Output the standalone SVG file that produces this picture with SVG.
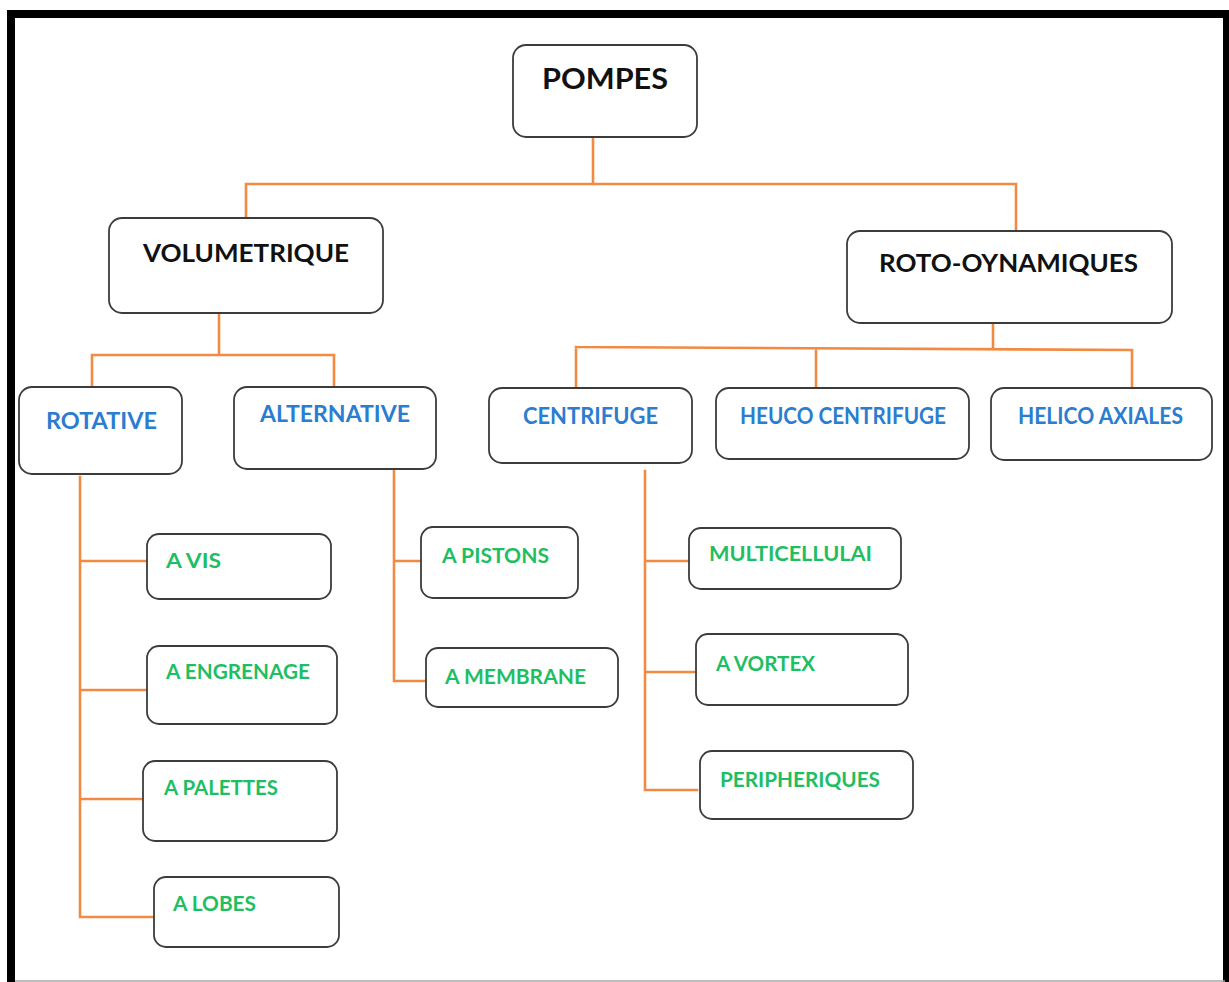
<svg xmlns="http://www.w3.org/2000/svg" width="1229" height="982" viewBox="0 0 1229 982">
  <style>
    .box { fill: #ffffff; stroke: #3c3c3c; stroke-width: 1.8; }
    .lnk { fill: none; stroke: #f28a44; stroke-width: 2.6; stroke-linecap: square; }
    text { font-family: Lato, "Open Sans", "Liberation Sans", sans-serif; font-weight: bold; }
    .t0 { fill: #111111; font-size: 29px; }
    .t1 { fill: #111111; font-size: 24px; }
    .t2 { fill: #2b7dd0; font-size: 23px; }
    .t3 { fill: #1fbe63; font-size: 21px; }
  </style>

  <!-- page frame -->
  <rect x="0" y="0" width="1229" height="982" fill="#ffffff"/>
  <path d="M11 982 V14 H1227 V982" fill="none" stroke="#000000" stroke-width="8"/>
  <line x1="15" y1="981" x2="1225" y2="981" stroke="#a8a8a8" stroke-width="1.5"/>

  <!-- connectors -->
  <g id="connectors" class="lnk">
    <path d="M593 137 V184 M246 184 H1016 M246 184 V218 M1016 184 V231"/>
    <path d="M219 313 V355 M92 355 H334 M92 355 V387 M334 355 V387"/>
    <path d="M993 323 V348 M576 347 L1132 350 M576 347 V388 M816 349 V388 M1132 350 V388"/>
    <path d="M80 477 V917 M80 561 H147 M80 690 H147 M80 799 H143 M80 917 H154"/>
    <path d="M394 471 V681 M394 561 H424 M394 681 H426"/>
    <path d="M645 471 V790 M645 561 H689 M645 672 H705 M645 790 H697"/>
  </g>

  <g id="n-pompes">
    <rect class="box" x="513" y="45" width="184" height="92" rx="13"/>
    <text class="t0" x="542" y="89" textLength="126" lengthAdjust="spacingAndGlyphs">POMPES</text>
  </g>
  <g id="n-volumetrique">
    <rect class="box" x="109" y="218" width="274" height="95" rx="13"/>
    <text class="t1" x="143" y="262" textLength="206" lengthAdjust="spacingAndGlyphs">VOLUMETRIQUE</text>
  </g>
  <g id="n-roto">
    <rect class="box" x="847" y="231" width="325" height="92" rx="13"/>
    <text class="t1" x="879" y="272" textLength="259" lengthAdjust="spacingAndGlyphs">ROTO-OYNAMIQUES</text>
  </g>

  <g id="n-rotative">
    <rect class="box" x="19" y="387" width="163" height="87" rx="13"/>
    <text class="t2" x="46" y="429" textLength="111" lengthAdjust="spacingAndGlyphs">ROTATIVE</text>
  </g>
  <g id="n-alternative">
    <rect class="box" x="234" y="387" width="202" height="82" rx="13"/>
    <text class="t2" x="260" y="422" textLength="150" lengthAdjust="spacingAndGlyphs">ALTERNATIVE</text>
  </g>
  <g id="n-centrifuge">
    <rect class="box" x="489" y="388" width="203" height="75" rx="13"/>
    <text class="t2" x="523" y="424" textLength="135" lengthAdjust="spacingAndGlyphs">CENTRIFUGE</text>
  </g>
  <g id="n-heuco">
    <rect class="box" x="716" y="388" width="253" height="71" rx="13"/>
    <text class="t2" x="740" y="424" textLength="206" lengthAdjust="spacingAndGlyphs">HEUCO CENTRIFUGE</text>
  </g>
  <g id="n-helico">
    <rect class="box" x="991" y="388" width="221" height="72" rx="13"/>
    <text class="t2" x="1018" y="424" textLength="165" lengthAdjust="spacingAndGlyphs">HELICO AXIALES</text>
  </g>

  <g id="n-avis">
    <rect class="box" x="147" y="534" width="184" height="65" rx="12"/>
    <text class="t3" x="166" y="568" textLength="55" lengthAdjust="spacingAndGlyphs">A VIS</text>
  </g>
  <g id="n-aengrenage">
    <rect class="box" x="147" y="646" width="190" height="78" rx="12"/>
    <text class="t3" x="166" y="679" textLength="144" lengthAdjust="spacingAndGlyphs">A ENGRENAGE</text>
  </g>
  <g id="n-apalettes">
    <rect class="box" x="143" y="761" width="194" height="80" rx="12"/>
    <text class="t3" x="164" y="795" textLength="114" lengthAdjust="spacingAndGlyphs">A PALETTES</text>
  </g>
  <g id="n-alobes">
    <rect class="box" x="154" y="877" width="185" height="70" rx="12"/>
    <text class="t3" x="173" y="911" textLength="83" lengthAdjust="spacingAndGlyphs">A LOBES</text>
  </g>

  <g id="n-apistons">
    <rect class="box" x="421" y="527" width="157" height="71" rx="12"/>
    <text class="t3" x="442" y="563" textLength="107" lengthAdjust="spacingAndGlyphs">A PISTONS</text>
  </g>
  <g id="n-amembrane">
    <rect class="box" x="426" y="648" width="192" height="59" rx="12"/>
    <text class="t3" x="445" y="684" textLength="141" lengthAdjust="spacingAndGlyphs">A MEMBRANE</text>
  </g>

  <g id="n-multicellulai">
    <rect class="box" x="689" y="528" width="212" height="61" rx="12"/>
    <text class="t3" x="709" y="561" textLength="163" lengthAdjust="spacingAndGlyphs">MULTICELLULAI</text>
  </g>
  <g id="n-avortex">
    <rect class="box" x="696" y="634" width="212" height="71" rx="12"/>
    <text class="t3" x="716" y="671" textLength="99" lengthAdjust="spacingAndGlyphs">A VORTEX</text>
  </g>
  <g id="n-peripheriques">
    <rect class="box" x="700" y="751" width="213" height="68" rx="12"/>
    <text class="t3" x="720" y="787" textLength="160" lengthAdjust="spacingAndGlyphs">PERIPHERIQUES</text>
  </g>
</svg>
